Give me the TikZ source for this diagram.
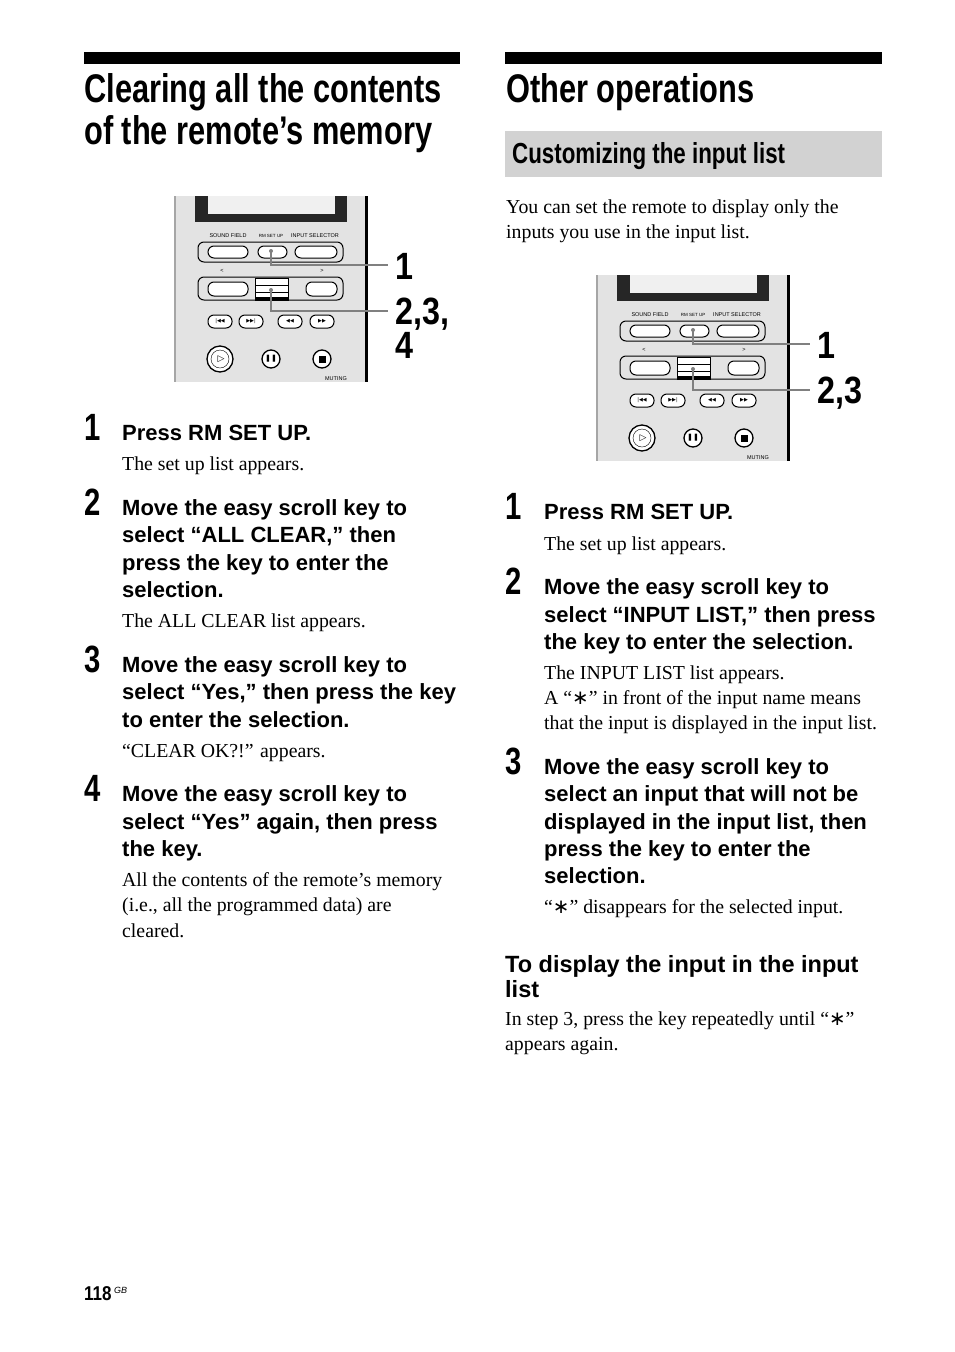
\documentclass[tikz,border=0pt]{standalone}
\usepackage{fontspec}
\setmainfont{Liberation Serif}
\newfontfamily\hsans{Liberation Sans}
\newfontfamily\cond[FakeStretch=0.77]{Liberation Sans Bold}
\newfontfamily\condw[FakeStretch=0.85]{Liberation Sans Bold}
\newfontfamily\djv{DejaVu Sans}
\newcommand{\astk}{{\djv ∗}}
\newcommand{\remotepic}{%
  \fill[gray!22] (175,196) rectangle (367,382);
  \draw[gray!70,line width=1.2] (175,196) -- (175,382);
  \draw[black,line width=3] (366,196) -- (366,382);
  \fill[black!85] (195,196) rectangle (347,222);
  \fill[gray!12] (208,196) rectangle (335,214);
  \node[rsm] at (228,236) {SOUND FIELD};
  \node[rsm,font=\hsans\fontsize{4.5}{5}\selectfont] at (271,236) {RM SET UP};
  \node[rsm] at (315,236) {INPUT SELECTOR};
  \draw[rb] (198,242) rectangle (343,262);
  \draw[rb,fill=white] (208,246) rectangle (248,258);
  \draw[rb,fill=white] (258,246) rectangle (287,258);
  \draw[rb,fill=white] (295,246) rectangle (337,258);
  \node[rsm] at (222,271) {<};
  \node[rsm] at (322,271) {>};
  \draw[rb] (198,277) rectangle (343,300);
  \draw[rb,fill=white] (208,282) rectangle (248,296);
  \draw[rb,fill=white] (306,282) rectangle (337,296);
  \draw[fill=white,line width=1] (255,278) rectangle (288,300);
  \draw (255,285) -- (288,285) (255,292) -- (288,292);
  \fill (255,297) rectangle (288,300);
  \foreach \cx/\s in {220/{|◀◀},251/{▶▶|},290/{◀◀},322/{▶▶}}{
    \draw[rb,fill=white] (\cx-12,315) rectangle (\cx+12,328);
    \node[font=\djv\fontsize{5}{5}\selectfont,inner sep=0] at (\cx,321.5) {\s};}
  \draw[line width=1.3,fill=white] (220,359) circle (13);
  \draw[fill=white] (220,359) circle (9);
  \node[font=\djv\fontsize{9}{9}\selectfont,inner sep=0] at (221,359) {▷};
  \draw[line width=1.3,fill=white] (271,359) circle (9);
  \node[font=\djv\fontsize{7}{7}\selectfont,inner sep=0] at (271,359) {❚❚};
  \draw[line width=1.3,fill=white] (322,359) circle (9);
  \fill (318.5,355.5) rectangle (325.5,362.5);
  \node[rsm] at (336,379) {MUTING};
  \fill[gray] (271,251) circle (2);
  \fill[gray] (271,290) circle (2);
  \draw[gray,line width=1.3] (271,251) -- (271,265) -- (388,265);
  \draw[gray,line width=1.3] (271,290) -- (271,311) -- (388,311);
}
\begin{document}
\begin{tikzpicture}[x=1pt,y=-1pt,
  rsm/.style={font=\hsans\fontsize{5.5}{6}\selectfont,inner sep=0},
  rb/.style={rounded corners=6,line width=1},
  tl/.style={anchor=base west,inner sep=0,font=\cond\fontsize{40}{40}\selectfont},
  hd/.style={anchor=base west,inner sep=0,font=\hsans\bfseries\fontsize{22}{22}\selectfont},
  bd/.style={anchor=base west,inner sep=0,font=\fontsize{19.8}{19.8}\selectfont},
  num/.style={anchor=base west,inner sep=0,font=\cond\fontsize{38}{38}\selectfont},
  lab/.style={anchor=base west,inner sep=0,font=\condw\fontsize{38}{38}\selectfont}]
\useasboundingbox (0,0) rectangle (954,1352);
\fill[white] (0,0) rectangle (954,1352);
% left column
\fill (84,52) rectangle (460,64);
\node[tl] at (84,102) {Clearing all the contents};
\node[tl] at (84,144) {of the remote’s memory};
\begin{scope}\remotepic\end{scope}
\node[lab] at (395,279) {1};
\node[lab] at (395,324) {2,3,};
\node[lab] at (395,358) {4};
\node[num] at (84,440) {1};
\node[hd] at (122,440) {Press RM SET UP.};
\node[bd] at (122,470) {The set up list appears.};
\node[num] at (84,515) {2};
\node[hd] at (122,515) {Move the easy scroll key to};
\node[hd] at (122,542) {select “ALL CLEAR,” then};
\node[hd] at (122,570) {press the key to enter the};
\node[hd] at (122,597) {selection.};
\node[bd] at (122,627) {The ALL CLEAR list appears.};
\node[num] at (84,672) {3};
\node[hd] at (122,672) {Move the easy scroll key to};
\node[hd] at (122,699) {select “Yes,” then press the key};
\node[hd] at (122,727) {to enter the selection.};
\node[bd] at (122,757) {“CLEAR OK?!” appears.};
\node[num] at (84,801) {4};
\node[hd] at (122,801) {Move the easy scroll key to};
\node[hd] at (122,829) {select “Yes” again, then press};
\node[hd] at (122,856) {the key.};
\node[bd] at (122,886) {All the contents of the remote’s memory};
\node[bd] at (122,911) {(i.e., all the programmed data) are};
\node[bd] at (122,937) {cleared.};
% right column
\fill (505,52) rectangle (882,64);
\node[tl] at (506,102) {Other operations};
\fill[gray!35] (505,131) rectangle (882,177);
\node[anchor=base west,inner sep=0,font=\cond\fontsize{29}{29}\selectfont] at (512,163) {Customizing the input list};
\node[bd] at (506,213) {You can set the remote to display only the};
\node[bd] at (506,238) {inputs you use in the input list.};
\begin{scope}[shift={(422,79)}]\remotepic\end{scope}
\node[lab] at (817,358) {1};
\node[lab] at (817,403) {2,3};
\node[num] at (505,519) {1};
\node[hd] at (544,519) {Press RM SET UP.};
\node[bd] at (544,550) {The set up list appears.};
\node[num] at (505,594) {2};
\node[hd] at (544,594) {Move the easy scroll key to};
\node[hd] at (544,622) {select “INPUT LIST,” then press};
\node[hd] at (544,649) {the key to enter the selection.};
\node[bd] at (544,679) {The INPUT LIST list appears.};
\node[bd] at (544,704) {A “\astk” in front of the input name means};
\node[bd] at (544,729) {that the input is displayed in the input list.};
\node[num] at (505,774) {3};
\node[hd] at (544,774) {Move the easy scroll key to};
\node[hd] at (544,801) {select an input that will not be};
\node[hd] at (544,829) {displayed in the input list, then};
\node[hd] at (544,856) {press the key to enter the};
\node[hd] at (544,883) {selection.};
\node[bd] at (544,913) {“\astk” disappears for the selected input.};
\node[anchor=base west,inner sep=0,font=\hsans\bfseries\fontsize{23.5}{23.5}\selectfont] at (505,972) {To display the input in the input};
\node[anchor=base west,inner sep=0,font=\hsans\bfseries\fontsize{23.5}{23.5}\selectfont] at (505,997) {list};
\node[bd] at (505,1025) {In step 3, press the key repeatedly until “\astk”};
\node[bd] at (505,1050) {appears again.};
\node[anchor=base west,inner sep=0,font=\condw\fontsize{20}{20}\selectfont] (pg) at (84,1300) {118};
\node[anchor=base west,inner sep=0,font=\hsans\itshape\fontsize{9}{9}\selectfont] at (114,1293) {GB};
\end{tikzpicture}
\end{document}
